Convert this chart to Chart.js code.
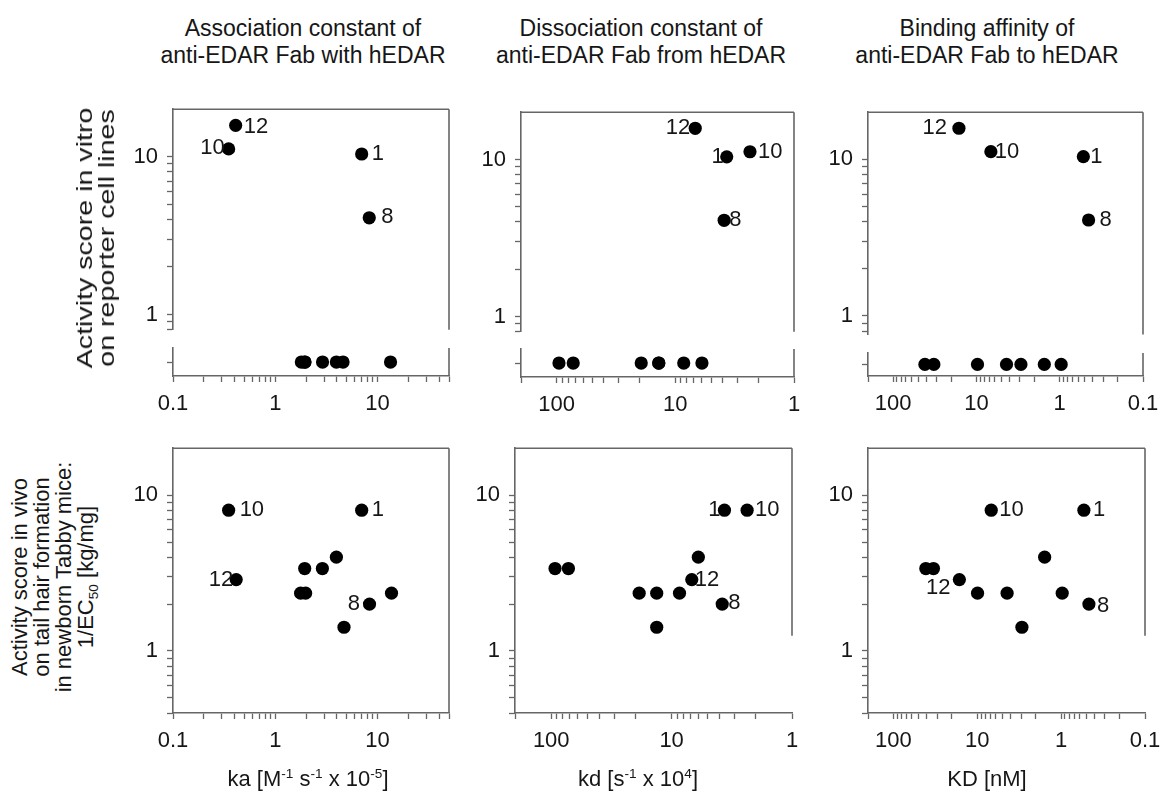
<!DOCTYPE html>
<html>
<head>
<meta charset="utf-8">
<script src="https://cdn.jsdelivr.net/npm/chart.js@4.4.1/dist/chart.umd.min.js"></script>
<style>
    html, body { margin: 0; padding: 0; background: #fff; }
    #fig { position: relative; width: 1162px; height: 802px; overflow: hidden;
           font-family: "Liberation Sans", Arial, Helvetica, sans-serif; color: #161616; }
    #fig canvas { position: absolute; }
    .ttl { position: absolute; top: 15px; font-size: 23px; line-height: 27px; text-align: center;
           white-space: nowrap; transform: translateX(-50%); }
    .xt  { position: absolute; top: 766px; font-size: 22px; line-height: 26px; white-space: nowrap;
           transform: translateX(-50%); }
    .yt  { position: absolute; font-size: 22px; line-height: 22px; text-align: center; white-space: nowrap;
           transform: translate(-50%, -50%) rotate(-90deg); }
    .yt.wide { transform: translate(-50%, -50%) rotate(-90deg) scaleX(1.3); }
    sup, sub { font-size: 62%; line-height: 0; }
</style>
</head>
<body>
<div id="fig">
    <canvas id="p-vitro-ka"></canvas>
    <canvas id="p-vitro-kd"></canvas>
    <canvas id="p-vitro-KD"></canvas>
    <canvas id="p-vivo-ka"></canvas>
    <canvas id="p-vivo-kd"></canvas>
    <canvas id="p-vivo-KD"></canvas>

    <div class="ttl" style="left:303px">Association constant of<br>anti-EDAR Fab with hEDAR</div>
    <div class="ttl" style="left:641px">Dissociation constant of<br>anti-EDAR Fab from hEDAR</div>
    <div class="ttl" style="left:987px">Binding affinity of<br>anti-EDAR Fab to hEDAR</div>

    <div class="yt wide" style="left:96px;top:238px">Activity score in vitro<br>on reporter cell lines</div>
    <div class="yt" style="left:53px;top:577px">Activity score in vivo<br>on tail hair formation<br>in newborn Tabby mice:<br>1/EC<sub>50</sub> [kg/mg]</div>

    <div class="xt" style="left:308px">ka [M<sup>-1</sup> s<sup>-1</sup> x 10<sup>-5</sup>]</div>
    <div class="xt" style="left:638px">kd [s<sup>-1</sup> x 10<sup>4</sup>]</div>
    <div class="xt" style="left:987px">KD [nM]</div>
</div>

<script>
"use strict";

// ─── Data ─────────────────────────────────────────────────────────────────────

// Top row: clones with measurable in vitro activity
const vitroClones = ['12', '10', '1', '8'];
const vitroScore  = [15.8, 11.2, 10.4, 4.1];
const vitroKa     = [0.41, 0.35, 7.0, 8.3];
const vitroKd     = [6.8, 2.35, 3.69, 3.88];
const vitroKD     = [16.2, 6.7, 0.52, 0.45];

// Top row: clones without in vitro activity (broken-off strip under the axis)
const inactiveKa  = [1.8, 1.95, 1.95, 2.9, 3.96, 4.6, 13.4];
const inactiveKd  = [95.7, 72.6, 19.4, 13.8, 13.8, 8.5, 5.97];
const inactiveKD  = [41.5, 32.4, 9.7, 4.35, 2.92, 1.53, 0.96];

// Bottom row: in vivo activity of every clone
const vivoClones  = ['10', '1', '12', '8', '', '', '', '', '', '', ''];
const vivoScore   = [8.0, 8.0, 2.87, 2.0, 4.0, 1.42, 3.38, 3.38, 2.35, 2.35, 2.35];
const vivoKa      = [0.35, 7.0, 0.415, 8.35, 3.96, 4.7, 2.89, 1.94, 1.77, 1.98, 13.7];
const vivoKd      = [2.36, 3.64, 6.8, 3.8, 6.0, 13.3, 93, 72, 18.6, 8.6, 13.3];
const vivoKD      = [6.8, 0.535, 16.3, 0.466, 1.57, 2.93, 33.2, 40.9, 9.9, 4.4, 0.97];

// Tick labels
const kaLabels    = [0.1, 1, 10];
const kdLabels    = [100, 10, 1];
const KDLabels    = [100, 10, 1, 0.1];
const scoreLabels = [1, 10];

// ─── Style ────────────────────────────────────────────────────────────────────

const FONT = "'Liberation Sans', Arial, Helvetica, sans-serif";
const INK  = '#161616';
const AXIS = '#666666';
const YW = 70, PT = 12, PR = 24, XH = 50;     // y-axis width, pads, x-axis height

// label offsets [dx, dy] from the dot centre; dx < 0 puts the text on the left
const LABEL_POS = {
    vitroKa: { '12': [8, 2],   '10': [-4, -1], '1': [10, 0],  '8': [12, -1] },
    vitroKd: { '12': [-5, 0],  '1': [-3, 0],   '10': [8, 0],  '8': [5, 0] },
    vitroKD: { '12': [-12, 0], '10': [4, 0],   '1': [7, 0],   '8': [11, 0] },
    vivoKa:  { '10': [11, 0],  '1': [10, 0],   '12': [-3, 0], '8': [-9.5, 0] },
    vivoKd:  { '1': [-4, 0],   '10': [8, 0],   '12': [3, 0],  '8': [6, -1] },
    vivoKD:  { '10': [8, 0],   '1': [9, 0],    '12': [-9, 8], '8': [8, 2] }
};

const DOT = {
    showLine: false,
    pointRadius: 6.6,
    pointHoverRadius: 6.6,
    pointBorderWidth: 0,
    pointBackgroundColor: '#000',
    backgroundColor: '#000',
    borderColor: '#000'
};

// ─── Helpers ──────────────────────────────────────────────────────────────────

function minorTicks(lo, hi) {
    var out = [];
    for (var e = Math.floor(Math.log10(lo)); e <= Math.ceil(Math.log10(hi)); e++) {
        for (var m = 1; m <= 9; m++) {
            var v = +(m * Math.pow(10, e)).toPrecision(6);
            if (v >= lo * 0.999 && v <= hi * 1.001) { out.push(v); }
        }
    }
    return out;
}

function near(list, v) {
    return list.some(function(l) { return Math.abs(l - v) <= 1e-6 * l; });
}

function fixW(s) { s.width = YW; }
function fixH(s) { s.height = XH; }

function logAxis(extra, ticks, labels) {
    return Object.assign({
        type: 'logarithmic',
        afterBuildTicks: function(s) { s.ticks = ticks.map(function(v) { return { value: v }; }); },
        ticks: {
            autoSkip: false, maxRotation: 0, padding: 9, color: INK,
            font: { family: FONT, size: 22 },
            callback: function(v) { return near(labels, v) ? String(v) : ''; }
        },
        grid: { drawOnChartArea: false, tickLength: 6, tickColor: AXIS, tickWidth: 1.3 },
        border: { color: AXIS, width: 1.6 }
    }, extra);
}

// top and right sides of the box (left/bottom come from the axes)
const framePlugin = {
    id: 'frame',
    afterDraw: function(chart, args, opts) {
        var ctx = chart.ctx, a = chart.chartArea, sc = chart.scales;
        ctx.save();
        ctx.strokeStyle = AXIS;
        ctx.lineWidth = 1.6;
        ctx.beginPath();
        ctx.moveTo(a.left, a.top);
        ctx.lineTo(a.right, a.top);
        [sc.y, sc.none].forEach(function(s) {
            if (!s) { return; }
            var bottom = (s === sc.y && opts.rightCut) ? s.getPixelForValue(opts.rightCut) : s.bottom;
            ctx.moveTo(a.right, s.top);
            ctx.lineTo(a.right, bottom);
        });
        ctx.stroke();
        ctx.restore();
    }
};

const labelPlugin = {
    id: 'cloneLabels',
    afterDatasetsDraw: function(chart, args, opts) {
        var ctx = chart.ctx;
        ctx.save();
        ctx.font = '22px ' + FONT;
        ctx.fillStyle = INK;
        ctx.textBaseline = 'middle';
        chart.data.datasets.forEach(function(ds, i) {
            if (!ds.cloneLabels) { return; }
            chart.getDatasetMeta(i).data.forEach(function(pt, j) {
                var txt = ds.cloneLabels[j];
                if (!txt) { return; }
                var off = opts.offsets[txt] || [10, 0];
                ctx.textAlign = off[0] < 0 ? 'right' : 'left';
                ctx.fillText(txt, pt.x + off[0], pt.y + off[1]);
            });
        });
        ctx.restore();
    }
};

function points(xs, ys) {
    return xs.map(function(x, i) { return { x: x, y: Array.isArray(ys) ? ys[i] : ys }; });
}

// ─── Panels ───────────────────────────────────────────────────────────────────

function makePanel(id, rect, xAxis, yScales, datasets, offsets, rightCut) {
    var cv = document.getElementById(id);
    cv.width  = (rect.r - rect.l) + YW + PR;
    cv.height = (rect.b - rect.t) + PT + XH;
    cv.style.left = (rect.l - YW) + 'px';
    cv.style.top  = (rect.t - PT) + 'px';

    var scales = Object.assign({ x: xAxis }, yScales);
    return new Chart(cv, {
        type: 'scatter',
        data: { datasets: datasets },
        options: {
            responsive: false,
            animation: false,
            events: [],
            layout: { padding: { top: PT, right: PR, left: 0, bottom: 0 } },
            scales: scales,
            plugins: {
                legend: { display: false },
                tooltip: { enabled: false },
                frame: { rightCut: rightCut || null },
                cloneLabels: { offsets: offsets }
            }
        },
        plugins: [framePlugin, labelPlugin]
    });
}

function xLog(min, max, reverse, labels) {
    return logAxis({ position: 'bottom', min: min, max: max, reverse: reverse, afterFit: fixH },
                   minorTicks(min, max), labels);
}

// broken y axis: log part on top, empty gap, one-row strip for inactive clones
function vitroY(min, weights) {
    return {
        y: logAxis({ axis: 'y', position: 'left', stack: 'score', stackWeight: weights[0], weight: 3,
                     min: min, max: 20, afterFit: fixW }, minorTicks(min, 10), scoreLabels),
        gap: { type: 'linear', axis: 'y', position: 'left', stack: 'score', stackWeight: weights[1], weight: 2,
               afterFit: fixW, grid: { display: false }, border: { display: false }, ticks: { display: false } },
        none: { type: 'category', axis: 'y', labels: ['inactive'], offset: true, position: 'left',
                stack: 'score', stackWeight: weights[2], weight: 1, afterFit: fixW,
                ticks: { padding: 9, callback: function() { return ''; } },
                grid: { drawOnChartArea: false, offset: false, tickLength: 6, tickColor: AXIS, tickWidth: 1.3 },
                border: { color: AXIS, width: 1.6 } }
    };
}

function vivoY() {
    return {
        y: logAxis({ position: 'left', min: 0.4, max: 20, afterFit: fixW }, minorTicks(0.4, 10), scoreLabels)
    };
}

function vitroSets(active, inactive) {
    return [
        Object.assign({ data: points(active, vitroScore), yAxisID: 'y', cloneLabels: vitroClones }, DOT),
        Object.assign({ data: points(inactive, 'inactive'), yAxisID: 'none' }, DOT)
    ];
}

function vivoSets(xs) {
    return [Object.assign({ data: points(xs, vivoScore), yAxisID: 'y', cloneLabels: vivoClones }, DOT)];
}

makePanel('p-vitro-ka', { l: 173, t: 99, r: 449, b: 376 },
          xLog(0.1, 50, false, kaLabels), vitroY(0.8, [229, 19, 29]),
          vitroSets(vitroKa, inactiveKa), LABEL_POS.vitroKa);
makePanel('p-vitro-kd', { l: 521, t: 102, r: 794, b: 377 },
          xLog(1, 200, true, kdLabels), vitroY(0.8, [228, 18, 29]),
          vitroSets(vitroKd, inactiveKd), LABEL_POS.vitroKd);
makePanel('p-vitro-KD', { l: 868, t: 102, r: 1143, b: 376 },
          xLog(0.1, 200, true, KDLabels), vitroY(0.76, [231, 19, 24]),
          vitroSets(vitroKD, inactiveKD), LABEL_POS.vitroKD);

makePanel('p-vivo-ka', { l: 173, t: 438, r: 449, b: 713 },
          xLog(0.1, 50, false, kaLabels), vivoY(), vivoSets(vivoKa), LABEL_POS.vivoKa);
makePanel('p-vivo-kd', { l: 515, t: 438, r: 792, b: 713 },
          xLog(1, 200, true, kdLabels), vivoY(), vivoSets(vivoKd), LABEL_POS.vivoKd, 1.25);
makePanel('p-vivo-KD', { l: 868, t: 438, r: 1145, b: 713 },
          xLog(0.1, 200, true, KDLabels), vivoY(), vivoSets(vivoKD), LABEL_POS.vivoKD, 1.25);
</script>
</body>
</html>
